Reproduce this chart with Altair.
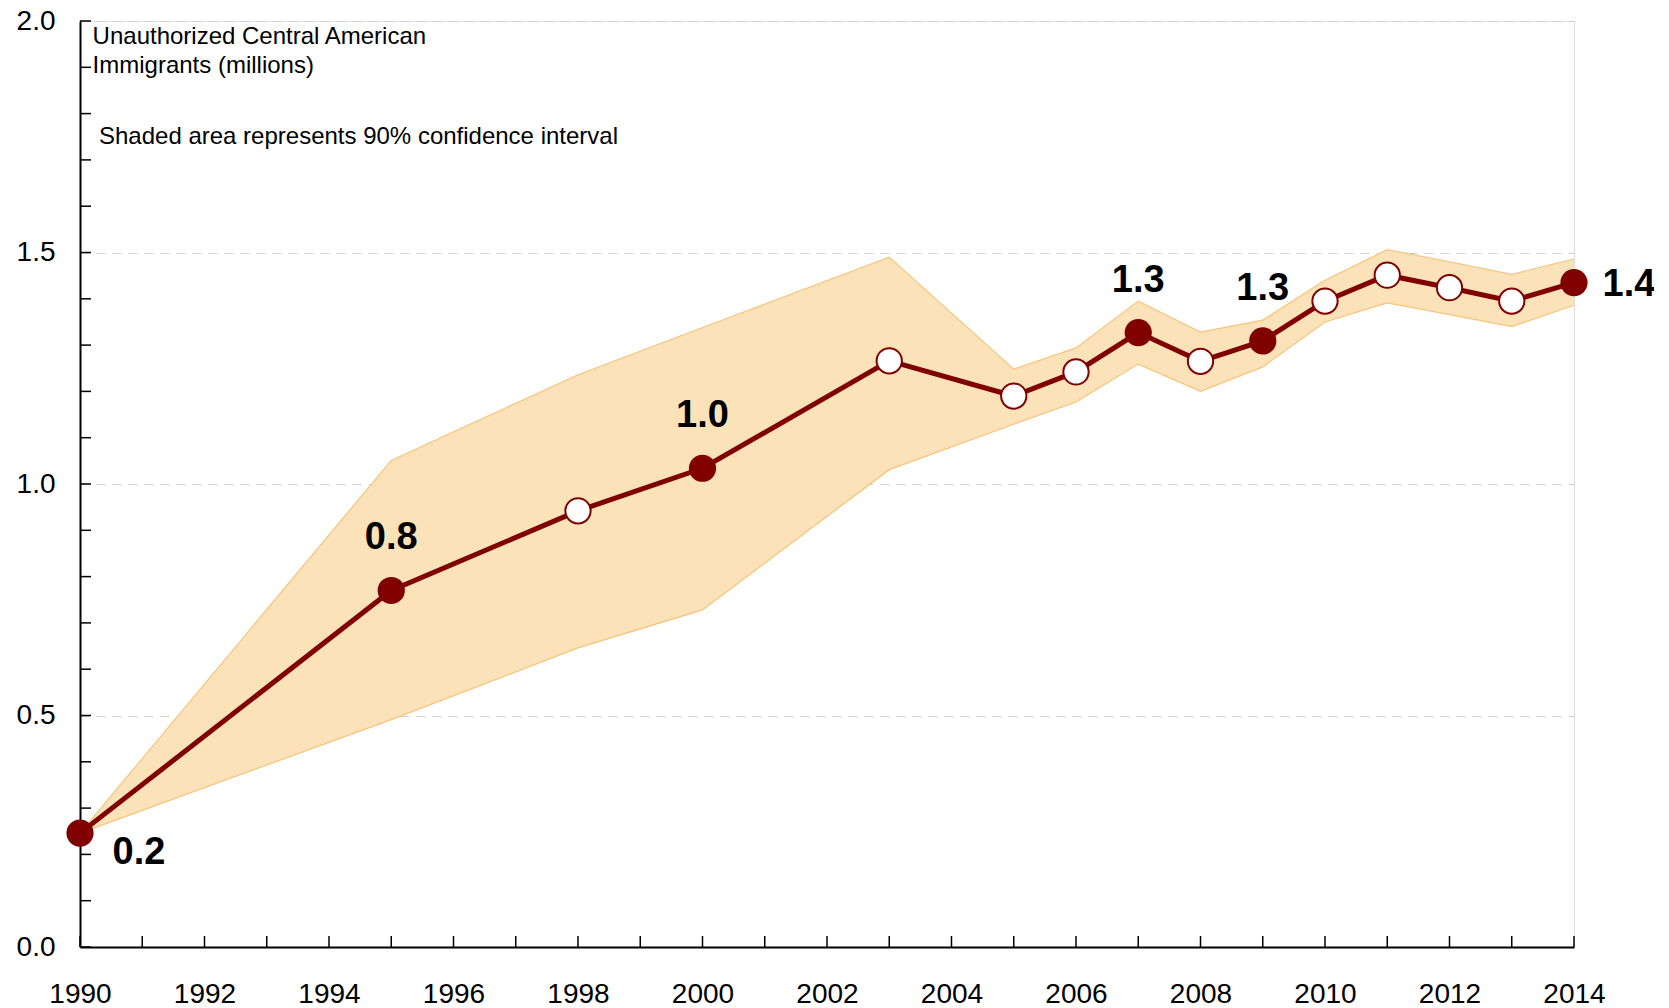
import altair as alt
import pandas as pd

# ---- data ----
years = [1990, 1995, 1998, 2000, 2003, 2005, 2006, 2007, 2008, 2009, 2010, 2011, 2012, 2013, 2014]
estimate = [0.246, 0.770, 0.942, 1.034, 1.266, 1.190, 1.242, 1.327, 1.265, 1.309, 1.395, 1.451, 1.424, 1.395, 1.435]
lower = [0.246, 0.491, 0.646, 0.728, 1.031, 1.129, 1.177, 1.259, 1.200, 1.253, 1.350, 1.391, 1.366, 1.340, 1.386]
upper = [0.246, 1.051, 1.236, 1.338, 1.490, 1.248, 1.294, 1.395, 1.328, 1.354, 1.440, 1.506, 1.480, 1.453, 1.486]
labels = ["0.2", "0.8", "", "1.0", "", "", "", "1.3", "", "1.3", "", "", "", "", "1.4"]

x_label_years = [1990, 1992, 1994, 1996, 1998, 2000, 2002, 2004, 2006, 2008, 2010, 2012, 2014]
x_tick_years = [1990, 1991, 1992, 1993, 1994, 1995, 1996, 1997, 1998, 1999, 2000, 2001, 2002,
                2003, 2004, 2005, 2006, 2007, 2008, 2009, 2010, 2011, 2012, 2013, 2014]
y_label_values = [0.0, 0.5, 1.0, 1.5, 2.0]
y_tick_values = [0.0, 0.1, 0.2, 0.3, 0.4, 0.5, 0.6, 0.7, 0.8, 0.9, 1.0,
                 1.1, 1.2, 1.3, 1.4, 1.5, 1.6, 1.7, 1.8, 1.9, 2.0]
title_text = "Unauthorized Central American\nImmigrants (millions)"
note_text = "Shaded area represents 90% confidence interval"

# ---- styling ----
W, H = 1494, 926
FONT = "Liberation Sans"
DARK = "#800000"
BAND = "#FCE2B8"
BAND_EDGE = "#F7C47A"

df = pd.DataFrame({"year": years, "est": estimate, "lo": lower, "hi": upper, "label": labels})

xs = alt.Scale(domain=[1990, 2014], nice=False, zero=False)
ys = alt.Scale(domain=[0, 2], nice=False, zero=True)

xaxis = alt.Axis(values=x_label_years, format="d", title=None, ticks=False, labelPadding=33,
                 labelFontSize=28, labelFont=FONT, labelColor="black", labelFlush=False,
                 labelOverlap=False, domainColor="black", domainWidth=2, grid=False)
yaxis = alt.Axis(values=y_label_values, format=".1f", title=None, ticks=False, labelPadding=25,
                 labelFontSize=28, labelFont=FONT, labelColor="black", labelFlush=False,
                 labelOverlap=False, domainColor="black", domainWidth=2, grid=True,
                 gridDash=[9, 7], gridColor="#CFCFCF", gridWidth=1)


def X(field):
    return alt.X(field, type="quantitative", scale=xs, axis=xaxis, title=None)


def Y(field):
    return alt.Y(field, type="quantitative", scale=ys, axis=yaxis, title=None)


base = alt.Chart(df)

band = base.mark_area(color=BAND, opacity=1).encode(x=X("year"), y=Y("lo"), y2="hi")
band_lo = base.mark_line(color=BAND_EDGE, strokeWidth=1.2).encode(x=X("year"), y=Y("lo"))
band_hi = base.mark_line(color=BAND_EDGE, strokeWidth=1.2).encode(x=X("year"), y=Y("hi"))
line = base.mark_line(color=DARK, strokeWidth=5).encode(x=X("year"), y=Y("est"))

pts_key = base.transform_filter("datum.label != ''").mark_circle(
    size=740, color=DARK, opacity=1).encode(x=X("year"), y=Y("est"))
pts_open = base.transform_filter("datum.label == ''").mark_point(
    shape="circle", filled=True, fill="white", stroke=DARK, strokeWidth=2, size=640, opacity=1
).encode(x=X("year"), y=Y("est"))

txt_style = dict(fontSize=38, fontWeight="bold", font=FONT, color="black", align="center", baseline="middle")
lab_above = base.transform_filter(
    "datum.label != '' && datum.year != 1990 && datum.year != 2014").mark_text(
    dy=-52, **txt_style).encode(x=X("year"), y=Y("est"), text="label:N")
lab_first = base.transform_filter("datum.year == 1990").mark_text(
    dx=59, dy=20, **txt_style).encode(x=X("year"), y=Y("est"), text="label:N")
lab_last = base.transform_filter("datum.year == 2014").mark_text(
    dx=55, dy=2, **txt_style).encode(x=X("year"), y=Y("est"), text="label:N")

yticks = alt.Chart(pd.DataFrame({"v": y_tick_values})).mark_rule(
    color="black", strokeWidth=1.5).encode(y=Y("v"), x=alt.value(0), x2=alt.value(11))
xticks = alt.Chart(pd.DataFrame({"yr": x_tick_years})).mark_rule(
    color="black", strokeWidth=1.5).encode(x=X("yr"), y=alt.value(H), y2=alt.value(H - 11))

title_mark = alt.Chart(pd.DataFrame({"t": [title_text]})).mark_text(
    align="left", baseline="top", lineBreak="\n", lineHeight=29, fontSize=24, font=FONT,
    color="black").encode(x=alt.value(12.6), y=alt.value(4), text="t:N")
note_mark = alt.Chart(pd.DataFrame({"t": [note_text]})).mark_text(
    align="left", baseline="top", fontSize=24, font=FONT,
    color="black").encode(x=alt.value(19), y=alt.value(104), text="t:N")

chart = alt.layer(
    band, band_lo, band_hi, line, pts_open, pts_key, lab_above, lab_first, lab_last,
    yticks, xticks, title_mark, note_mark
).properties(
    width=W, height=H,
    padding={"left": 72, "top": 13, "right": 80, "bottom": 70},
    autosize=alt.AutoSizeParams(type="none"),
).configure_view(stroke=None).configure(background="white")

chart.save("out.html", embed_options={"renderer": "svg", "actions": False})
